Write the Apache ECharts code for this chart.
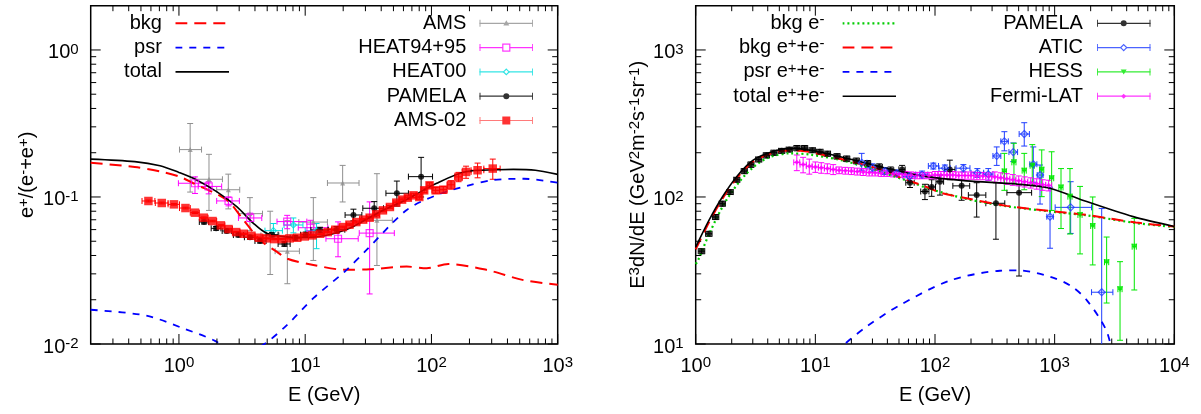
<!DOCTYPE html>
<html>
<head>
<meta charset="utf-8">
<title>positron fraction and e+e- spectrum</title>
<script src="https://cdn.jsdelivr.net/npm/echarts@6.0.0/dist/echarts.min.js"></script>
<style>
  html, body { margin: 0; padding: 0; background: #fff; }
  #chart { width: 1201px; height: 414px; }
</style>
</head>
<body>
<div id="chart"></div>
<script>
// two log-log panels: positron fraction (left), e+ + e- spectrum (right)

//---------------------------------------------------------------- left panel data
// model curves, [E (GeV), e+/(e- + e+)]
const bkgFrac = [[0.2,0.171],[0.447,0.160],[0.708,0.149],[1.0,0.138],[1.3,0.124],[2.39,0.0954],[3.24,0.0698],[4.39,0.051],[5.95,0.0425],[7.22,0.038],[11.6,0.0345],[20.5,0.032],[32.6,0.0322],[63.7,0.0336],[91.7,0.0328],[136,0.035],[275,0.0319],[535,0.0272],[1000,0.0253]];
const psrFrac = [[0.2,0.0171],[0.55,0.0156],[1.1,0.0127],[1.93,0.0105],[3.0,0.0082],[4.75,0.0100],[7.2,0.0135],[11.6,0.0205],[20.5,0.031],[30.6,0.0436],[63.7,0.0816],[110,0.103],[190,0.119],[310,0.1305],[540,0.133],[1000,0.125]];
const totalFrac = [[0.2,0.181],[0.447,0.174],[0.708,0.163],[1.0,0.147],[1.3,0.134],[1.99,0.1087],[2.87,0.0859],[3.89,0.0662],[4.96,0.0566],[7.1,0.0535],[10.2,0.053],[20.5,0.0593],[41,0.081],[62,0.095],[110,0.124],[190,0.149],[331,0.153],[445,0.154],[666,0.152],[1000,0.1425]];

// measurements, [E, value, E low, E high, value low, value high]
const amsFrac = [
  [1.227,0.210,1.01,1.51,0.108,0.316],[1.73,0.132,1.36,2.21,0.081,0.195],[2.46,0.112,1.99,3.03,0.083,0.143],
  [3.65,0.077,2.96,4.59,0.059,0.099],[5.28,0.0548,4.46,6.2,0.0297,0.080],[7.22,0.0428,5.78,9.0,0.0257,0.069],
  [11.6,0.0675,8.9,15.0,0.037,0.099],[19.8,0.1245,15.0,26.7,0.0925,0.164],[37,0.0694,28,49,0.0342,0.144]
];
const heat9495 = [
  [1.34,0.124,0.99,1.71,0.1056,0.137],[1.72,0.118,1.42,2.18,0.105,0.127],[2.47,0.094,1.99,3.01,0.087,0.1],
  [3.67,0.072,2.96,4.53,0.068,0.0776],[7.2,0.068,5.98,10.3,0.0608,0.075],[11.0,0.0618,8.81,15.1,0.056,0.0694],
  [18.2,0.052,14.6,26.3,0.0392,0.0677],[32.4,0.0568,26.8,50.8,0.0219,0.0926]
];
const heat00 = [
  [5.6,0.059,4.8,6.6,0.054,0.066],[8.06,0.0645,6.8,9.6,0.057,0.072],[12.3,0.059,10.0,15.0,0.0445,0.066]
];
const pamelaFrac = [
  [1.58,0.0676,1.45,1.72,0.0655,0.0697],[1.97,0.0612,1.8,2.15,0.0594,0.063],[2.39,0.0587,2.2,2.6,0.057,0.0604],
  [2.96,0.0551,2.7,3.25,0.0535,0.0567],[3.65,0.0532,3.3,4.0,0.0516,0.0548],[4.39,0.0502,4.0,4.9,0.0486,0.0518],
  [5.47,0.0554,4.9,6.1,0.0535,0.0573],[6.84,0.0479,6.1,7.6,0.0462,0.0496],[8.35,0.0528,7.6,9.2,0.0508,0.0548],
  [10.1,0.0554,9.2,11.1,0.0531,0.0577],[13.1,0.0597,11.1,15.2,0.0572,0.0622],[17.7,0.0599,15.2,20.6,0.0568,0.063],
  [24.1,0.0754,20.7,28.1,0.0688,0.0826],[35.2,0.0838,28.6,41.7,0.0741,0.093],[53.2,0.106,43.6,65.7,0.0867,0.1283],
  [82.8,0.1375,65.7,102,0.1,0.186]
];
const ams02 = [
  [0.573,0.0939,0.51,0.645,0.0925,0.0953],[0.731,0.0910,0.65,0.82,0.0897,0.0923],[0.913,0.0891,0.82,1.01,0.0879,0.0903],
  [1.126,0.0841,1.01,1.23,0.083,0.0852],[1.339,0.0782,1.23,1.45,0.0772,0.0792],[1.572,0.0723,1.45,1.70,0.0714,0.0732],
  [1.845,0.0686,1.70,1.99,0.0678,0.0694],[2.149,0.0641,1.99,2.31,0.0634,0.0648],[2.471,0.0605,2.31,2.65,0.0599,0.0611],
  [2.84,0.0577,2.65,3.04,0.0571,0.0583],[3.263,0.0562,3.04,3.50,0.0556,0.0568],[3.75,0.0545,3.50,4.00,0.054,0.055],
  [4.31,0.0528,4.00,4.62,0.0523,0.0533],[4.955,0.0523,4.62,5.30,0.0518,0.0528],[5.69,0.0517,5.30,6.10,0.0512,0.0522],
  [6.54,0.0517,6.10,7.00,0.0512,0.0522],[7.52,0.0523,7.00,8.05,0.0518,0.0528],[8.64,0.0528,8.05,9.26,0.0523,0.0533],
  [9.93,0.0539,9.26,10.6,0.0533,0.0545],[11.41,0.0548,10.6,12.2,0.0542,0.0554],[13.12,0.0562,12.2,14.1,0.0555,0.0569],
  [15.08,0.0577,14.1,16.2,0.057,0.0584],[17.33,0.0599,16.2,18.6,0.0591,0.0607],[19.91,0.0624,18.6,21.2,0.0615,0.0633],
  [22.41,0.0648,21.2,23.9,0.0638,0.0658],[25.4,0.0675,23.9,27.0,0.0664,0.0686],[28.8,0.0701,27.0,30.6,0.0689,0.0713],
  [32.4,0.0723,30.6,34.4,0.071,0.0736],[36.5,0.0762,34.4,38.7,0.0747,0.0777],[41.3,0.0811,38.7,44.0,0.0794,0.0828],
  [46.9,0.0855,44.0,49.7,0.0836,0.0874],[52.7,0.0915,49.7,55.6,0.0893,0.0937],[58.5,0.0959,55.6,61.6,0.0934,0.0984],
  [65.0,0.0989,61.6,68.7,0.096,0.1018],[72.1,0.1026,68.7,76.0,0.0993,0.1059],[80.1,0.100,76.0,84.0,0.0965,0.1035],
  [87.6,0.111,84.0,92.0,0.107,0.115],[96.6,0.120,92.0,101,0.115,0.125],[108,0.111,101,116,0.106,0.116],
  [124,0.112,116,133,0.106,0.118],[143,0.121,133,153,0.113,0.129],[164,0.137,153,175,0.127,0.147],
  [188,0.148,175,206,0.134,0.162],[232,0.152,206,260,0.135,0.170],[306,0.156,260,350,0.132,0.181]
];

//---------------------------------------------------------------- right panel data
// model curves, [E (GeV), E^3 dN/dE]
const bkgElec = [[1,35],[1.05,37.3],[1.32,58],[1.81,95.5],[2.67,145],[3.92,183],[6.13,198],[9.1,194],[19,173],[57,130],[89,114],[183,97],[396,86.5],[1088,78.5],[1853,75],[4760,66.5],[10000,62.5]];
const bkgLep = [[1,44],[1.29,67],[1.67,97],[2.25,137],[3.02,174],[4.35,199],[6.29,208],[9.1,202],[19,176],[39.5,150],[51,136],[82.7,118],[111,107],[183,98],[396,87],[1088,79],[1853,75.5],[4760,67],[10000,63]];
const psrLep = [[10,6.5],[17.6,10],[27.4,13.3],[51,18.4],[133,27],[349,31.5],[500,31.7],[915,28.7],[1350,25],[1853,19.9],[2700,12.4],[3100,8]];
const totalLep = [[1,45.6],[1.29,69.3],[1.67,100],[2.25,140.6],[3.02,178],[4.35,203],[6.29,214],[9.1,208],[18.96,182],[39.5,157],[82.7,138],[183,128.6],[480,122.5],[915,114.6],[1853,93],[4530,73.5],[10000,63]];

// measurements, [E, value, E low, E high, value low, value high]
const pamelaElec = [
  [1.12,42.8,1.05,1.19,41.1,44.5],[1.29,56.2,1.21,1.37,54,58.4],[1.47,73.1,1.38,1.56,70.2,76],
  [1.67,90.1,1.57,1.77,86.5,93.7],[1.94,108,1.82,2.06,104,112],[2.21,131,2.08,2.34,126,136],
  [2.55,150,2.4,2.7,144,156],[2.9,166,2.73,3.07,159,173],[3.37,180,3.17,3.57,173,187],
  [3.9,192,3.67,4.13,184,200],[4.52,200,4.25,4.79,192,208],[5.24,206,4.93,5.55,198,214],
  [6.06,210,5.7,6.42,202,218],[7.03,215,6.61,7.45,206,224],[8.14,215,7.65,8.63,206,224],
  [9.43,208,8.86,10.0,200,216],[10.9,203,10.2,11.6,195,211],[12.6,197,11.8,13.4,189,205],
  [15.2,189,14.3,16.1,181,197],[18.3,182,17.2,19.4,174,190],[22.0,176,20.7,23.3,168,184],
  [27.4,169,25.8,29.0,161,177],[34.2,160,32.1,36.3,152,168],[42.6,152,40.0,45.2,144,160],
  [53.1,154,49.9,56.3,144,164],[61.8,125,57,67,116,134],[82.4,109,76,89,96,122],
  [93.8,117,88,101,101,131],[110,127,102,118,103,141],[133,154,120,147,131,178],
  [167,119,141,195,95,131],[223,103,190,266,73,125],[323,90.6,266,383,51.6,125],
  [504,107,399,642,29,121]
];
const aticLep = [
  [24.4,171,22,27,152,198],[30,158,27,33.5,148,168],[38,150,34,42,142,158],[48,145,43,53.5,138,152],
  [61,138,54,68,130,146],[78,142,69,87,134,150],[96.8,162.5,88,107,155,170],[121,157,108,134,149,165],
  [172.6,157,150,196,148,166],[226,146,200,255,136,156],[279,143,255,305,130,156],[328,190,305,355,164,219],
  [380,239,355,410,206,278],[451,202,415,490,174,233],[557,268,505,615,222,320],[663,167,620,710,126,219],
  [755,141,715,800,89.5,165],[915,73.4,860,975,44.8,116.5],[1361,85,1010,2034,56.5,127],[2473,22.5,2034,3067,8,83.4]
];
const hessLep = [
  [380,149,365,395,111,198],[457,172,439,475,124,232],[557,151,535,579,112,198],[650,163,624,676,121,227],
  [780,153,749,811,100.5,209],[944,134,906,982,81,203],[1130,116,1085,1175,61,156],[1343,100.5,1290,1397,56,156],
  [1630,75.5,1565,1695,41,118],[2080,63.5,2000,2165,34.5,100],[2720,36,2610,2830,19,53.4],
  [3520,23.6,3380,3660,10.6,36.3],[4630,45.9,4445,4815,23.3,71.5]
];
const fermiLep = [
  [7.0,172,6.6,7.4,151,193],[7.9,166,7.45,8.4,146,186],[8.9,162,8.4,9.4,143,181],[10.0,160,9.4,10.6,147,173],
  [11.2,158,10.6,11.9,145,171],[12.6,156,11.9,13.4,144,168],[14.1,154,13.3,14.9,142,166],[15.8,152,14.9,16.7,144,160],
  [17.8,151,16.8,18.9,143,159],[20.0,150,18.9,21.2,142,158],[22.4,149,21.1,23.7,141,157],[25.1,148,23.7,26.6,140,156],
  [28.2,147,26.6,29.9,139,155],[31.6,146,29.8,33.5,139,153],[35.5,145,33.5,37.6,138,152],[39.8,145,37.5,42.2,138,152],
  [44.7,144,42.2,47.4,137,151],[50.1,143,47.3,53.1,136,150],[56.2,142,53.0,59.6,135,149],[63.1,141,59.5,66.9,134,148],
  [70.8,140,66.8,75.0,133,147],[79.4,140,74.9,84.2,133,147],[89.1,140,84.1,94.4,133,147],[100,141,94.3,106,133,149],
  [112,141,106,119,133,149],[126,141,119,134,133,149],[141,141,133,150,133,149],[158,140,149,168,132,148],
  [178,140,168,189,132,148],[200,140,189,212,132,148],[224,139,211,237,131,147],[251,139,237,266,131,147],
  [282,138,266,299,130,146],[316,137,298,335,126,148],[355,135,335,376,124,146],[398,133,375,422,122,144],
  [447,131,422,474,120,142],[501,129,473,531,119,139],[562,127,530,596,117,137],[631,125,595,669,115,135],
  [708,123,668,750,113,133],[794,121,749,842,111,131],[891,120,841,944,110,130]
];

// axis ranges
const leftX = [0.2, 1000], leftY = [0.01, 2];
const rightX = [1, 10000], rightY = [10, 2000];

// axis titles and legend labels ({s|..} = superscript)
const xTitle = 'E (GeV)';
const leftYTitle = 'e{s|+}/(e{s|-}+e{s|+})';
const rightYTitle = 'E{s|3}dN/dE (GeV{s|2}m{s|-2}s{s|-1}sr{s|-1})';
const legendText = {
  'bkg e-': 'bkg e{s|-}',
  'bkg e+e-': 'bkg e{s|+}+e{s|-}',
  'psr e+e-': 'psr e{s|+}+e{s|-}',
  'total e+e-': 'total e{s|+}+e{s|-}',
  'PAMELA e-': 'PAMELA'
};

//---------------------------------------------------------------- helpers
const FONT = 'Liberation Sans';
const sup = { fontSize: 15, lineHeight: 9, verticalAlign: 'top', fontFamily: FONT, color: '#000' };

function powLabel(v) {
  const e = Math.log10(v), r = Math.round(e);
  if (Math.abs(e - r) > 1e-6) return '';
  return '10{s|' + r + '}';
}

// major ticks at powers of ten, minor at 2..9 of each decade
function logTicks(lo, hi) {
  const major = [], minor = [];
  for (let e = Math.floor(Math.log10(lo)); e <= Math.ceil(Math.log10(hi)); e++) {
    const p = Math.pow(10, e);
    if (p >= lo * 0.999 && p <= hi * 1.001) major.push(p);
    for (let m = 2; m <= 9; m++) {
      const v = m * p;
      if (v > lo * 1.001 && v < hi * 0.999) minor.push(v);
    }
  }
  return [major, minor];
}

function tickRows(xr, yr) {
  const rows = [];
  const xt = logTicks(xr[0], xr[1]), yt = logTicks(yr[0], yr[1]);
  xt[0].forEach(v => rows.push([v, yr[0], 0]));
  xt[1].forEach(v => rows.push([v, yr[0], 1]));
  yt[0].forEach(v => rows.push([xr[0], v, 2]));
  yt[1].forEach(v => rows.push([xr[0], v, 3]));
  return rows;
}

function seg(x1, y1, x2, y2, style) {
  return { type: 'line', shape: { x1: x1, y1: y1, x2: x2, y2: y2 }, style: style };
}

// inward ticks on all four sides of the frame
function renderTicks(params, api) {
  const cs = params.coordSys;
  const kind = api.value(2);
  const p = api.coord([api.value(0), api.value(1)]);
  const len = kind % 2 === 0 ? 10 : 5.5;
  const st = { stroke: '#000', lineWidth: 1 };
  if (kind < 2) {
    return { type: 'group', children: [
      seg(p[0], cs.y + cs.height, p[0], cs.y + cs.height - len, st),
      seg(p[0], cs.y, p[0], cs.y + len, st)
    ] };
  }
  return { type: 'group', children: [
    seg(cs.x, p[1], cs.x + len, p[1], st),
    seg(cs.x + cs.width, p[1], cs.x + cs.width - len, p[1], st)
  ] };
}

// x and y error bars with end caps
function renderErr(params, api) {
  const x = api.value(0), y = api.value(1);
  const c = api.coord([x, y]);
  const l = api.coord([api.value(2), y]), r = api.coord([api.value(3), y]);
  const lo = api.coord([x, api.value(4)]), hi = api.coord([x, api.value(5)]);
  const cap = 3;
  const st = { stroke: api.visual('color'), lineWidth: 1 };
  return { type: 'group', children: [
    seg(l[0], c[1], r[0], c[1], st),
    seg(l[0], c[1] - cap, l[0], c[1] + cap, st),
    seg(r[0], c[1] - cap, r[0], c[1] + cap, st),
    seg(c[0], lo[1], c[0], hi[1], st),
    seg(c[0] - cap, lo[1], c[0] + cap, lo[1], st),
    seg(c[0] - cap, hi[1], c[0] + cap, hi[1], st)
  ] };
}

function tickSeries(axis, xr, yr) {
  return { type: 'custom', name: 'ticks' + axis, xAxisIndex: axis, yAxisIndex: axis,
    data: tickRows(xr, yr), renderItem: renderTicks, clip: false, silent: true, z: 10 };
}

function curve(name, data, color, width, dash, axis) {
  return { type: 'line', name: name, data: data, xAxisIndex: axis, yAxisIndex: axis,
    symbol: 'none', showSymbol: false, smooth: 0.3, clip: true, silent: true,
    lineStyle: { color: color, width: width, type: dash || 'solid' }, itemStyle: { color: color }, z: 3 };
}

function errSeries(name, rows, color, axis) {
  return { type: 'custom', name: name + ' err', xAxisIndex: axis, yAxisIndex: axis,
    data: rows, renderItem: renderErr, itemStyle: { color: color }, clip: true, silent: true, z: 3 };
}

function points(name, rows, color, symbol, size, axis, open, rotate) {
  return { type: 'scatter', name: name, xAxisIndex: axis, yAxisIndex: axis,
    data: rows.map(r => [r[0], r[1]]), symbol: symbol, symbolSize: size, symbolRotate: rotate || 0,
    clip: true, silent: true, z: 3,
    itemStyle: open ? { color: 'rgba(0,0,0,0)', borderColor: color, borderWidth: 1.2 } : { color: color } };
}

// legend samples drawn as small svg images
function svgIcon(body) {
  return 'image://data:image/svg+xml;charset=utf-8,' + encodeURIComponent(
    "<svg xmlns='http://www.w3.org/2000/svg' width='54' height='12' viewBox='0 0 54 12'>" + body + '</svg>');
}
function lineIcon(color, width, dash) {
  return svgIcon("<line x1='0' y1='6' x2='54' y2='6' stroke='" + color + "' stroke-width='" + width + "'" +
    (dash ? " stroke-dasharray='" + dash + "'" : '') + '/>');
}
function barIcon(color, marker) {
  return svgIcon("<g stroke='" + color + "' stroke-width='1.2'><line x1='0' y1='6' x2='54' y2='6'/>" +
    "<line x1='0.6' y1='2.5' x2='0.6' y2='9.5'/><line x1='53.4' y1='2.5' x2='53.4' y2='9.5'/></g>" + marker);
}

function legendOf(items, right, pad) {
  return {
    orient: 'vertical', align: 'right', right: right, top: 12.3, padding: 0,
    itemWidth: 54, itemHeight: 12, itemGap: 2.3, selectedMode: false,
    data: items.map(it => ({ name: it[0], icon: it[1] })),
    formatter: name => legendText[name] || name,
    textStyle: { fontSize: 20, lineHeight: 22, color: '#000', fontFamily: FONT, padding: [0, pad, 0, 0], rich: { s: sup } }
  };
}

function xAxisOf(grid, range) {
  return {
    type: 'log', logBase: 10, gridIndex: grid, min: range[0], max: range[1],
    name: xTitle, nameLocation: 'middle', nameGap: 40,
    nameTextStyle: { fontSize: 20, lineHeight: 22, color: '#000', fontFamily: FONT },
    axisLine: { show: false }, axisTick: { show: false }, splitLine: { show: false },
    axisLabel: { formatter: powLabel, margin: 11, fontSize: 20, lineHeight: 22, color: '#000', fontFamily: FONT, rich: { s: sup } }
  };
}

function yAxisOf(grid, range, title, gap) {
  return {
    type: 'log', logBase: 10, gridIndex: grid, min: range[0], max: range[1],
    name: title, nameLocation: 'middle', nameGap: gap, nameRotate: 90,
    nameTextStyle: { fontSize: 20, lineHeight: 22, color: '#000', fontFamily: FONT, rich: { s: sup } },
    axisLine: { show: false }, axisTick: { show: false }, splitLine: { show: false },
    axisLabel: { formatter: powLabel, margin: 12, padding: [6, 0, 0, 0], fontSize: 20, lineHeight: 22, color: '#000', fontFamily: FONT, rich: { s: sup } }
  };
}

//---------------------------------------------------------------- colours
const RED = '#ff0000', BLUE = '#0000ff', GRAY = '#909090', MAGENTA = '#ff00ff',
  CYAN = '#00dede', BLUE2 = '#1f3dff', GREEN = '#00e800', GREEN2 = '#00cc00';

//---------------------------------------------------------------- chart
const chart = echarts.init(document.getElementById('chart'));

const option = {
  animation: false,
  backgroundColor: '#fff',
  textStyle: { fontFamily: FONT },
  grid: [
    { left: 90.7, top: 5.7, width: 467, height: 338.3, show: true, borderColor: '#000', borderWidth: 1.5, backgroundColor: 'rgba(0,0,0,0)', outerBoundsMode: 'none' },
    { left: 695.7, top: 5.7, width: 478.6, height: 338.3, show: true, borderColor: '#000', borderWidth: 1.5, backgroundColor: 'rgba(0,0,0,0)', outerBoundsMode: 'none' }
  ],
  xAxis: [xAxisOf(0, leftX), xAxisOf(1, rightX)],
  yAxis: [yAxisOf(0, leftY, leftYTitle, 52), yAxisOf(1, rightY, rightYTitle, 41)],
  legend: [
    legendOf([
      ['bkg', lineIcon(RED, 2, '12 7')],
      ['psr', lineIcon(BLUE, 1.8, '7 7')],
      ['total', lineIcon('#000', 1.6)]
    ], 971.7, 8.4),
    legendOf([
      ['AMS', barIcon(GRAY, "<polygon points='27,3 30,8.2 24,8.2' fill='" + GRAY + "'/>")],
      ['HEAT94+95', barIcon(MAGENTA, "<rect x='23.5' y='2.5' width='7' height='7' fill='white' stroke='" + MAGENTA + "' stroke-width='1.2'/>")],
      ['HEAT00', barIcon(CYAN, "<polygon points='27,3.2 29.8,6 27,8.8 24.2,6' fill='white' stroke='" + CYAN + "' stroke-width='1.2'/>")],
      ['PAMELA', barIcon('#000', "<circle cx='27' cy='6' r='3' fill='#000'/>")],
      ['AMS-02', barIcon('#ff5a5a', "<rect x='23' y='2' width='8' height='8' fill='" + RED + "'/>")]
    ], 667.7, 8),
    legendOf([
      ['bkg e-', lineIcon(GREEN2, 2.2, '2 3')],
      ['bkg e+e-', lineIcon(RED, 2, '12 7')],
      ['psr e+e-', lineIcon(BLUE, 1.8, '7 7')],
      ['total e+e-', lineIcon('#000', 1.6)]
    ], 304.6, 13),
    legendOf([
      ['PAMELA e-', barIcon('#000', "<circle cx='27' cy='6' r='3' fill='#000'/>")],
      ['ATIC', barIcon(BLUE2, "<polygon points='27,3 30,6 27,9 24,6' fill='white' stroke='" + BLUE2 + "' stroke-width='1.2'/>")],
      ['HESS', barIcon(GREEN, "<polygon points='24,3.5 30,3.5 27,8.5' fill='" + GREEN + "'/>")],
      ['Fermi-LAT', barIcon(MAGENTA, "<polygon points='27,3.5 29.5,6 27,8.5 24.5,6' fill='" + MAGENTA + "'/>")]
    ], 50.3, 8.8)
  ],
  series: [
    // left panel
    curve('bkg', bkgFrac, RED, 2, [12, 7], 0),
    curve('psr', psrFrac, BLUE, 1.8, [7, 7], 0),
    curve('total', totalFrac, '#000', 1.6, null, 0),
    errSeries('AMS', amsFrac, GRAY, 0),
    points('AMS', amsFrac, GRAY, 'triangle', 5, 0),
    errSeries('HEAT94+95', heat9495, MAGENTA, 0),
    points('HEAT94+95', heat9495, MAGENTA, 'rect', 7, 0, true),
    errSeries('HEAT00', heat00, CYAN, 0),
    points('HEAT00', heat00, CYAN, 'diamond', 6, 0, true),
    errSeries('PAMELA', pamelaFrac, '#000', 0),
    points('PAMELA', pamelaFrac, '#000', 'circle', 6, 0),
    errSeries('AMS-02', ams02, RED, 0),
    points('AMS-02', ams02, RED, 'rect', 8.5, 0),
    tickSeries(0, leftX, leftY),
    // right panel
    curve('bkg e-', bkgElec, GREEN2, 2.2, [2, 3], 1),
    curve('bkg e+e-', bkgLep, RED, 2, [12, 7], 1),
    curve('psr e+e-', psrLep, BLUE, 1.8, [7, 7], 1),
    curve('total e+e-', totalLep, '#000', 1.6, null, 1),
    errSeries('PAMELA e-', pamelaElec, '#000', 1),
    points('PAMELA e-', pamelaElec, '#000', 'circle', 6, 1),
    errSeries('ATIC', aticLep, BLUE2, 1),
    points('ATIC', aticLep, BLUE2, 'diamond', 7, 1, true),
    errSeries('HESS', hessLep, GREEN, 1),
    points('HESS', hessLep, GREEN, 'triangle', 6, 1, false, 180),
    errSeries('Fermi-LAT', fermiLep, MAGENTA, 1),
    points('Fermi-LAT', fermiLep, MAGENTA, 'diamond', 5, 1),
    tickSeries(1, rightX, rightY)
  ]
};

chart.setOption(option);
</script>
</body>
</html>
